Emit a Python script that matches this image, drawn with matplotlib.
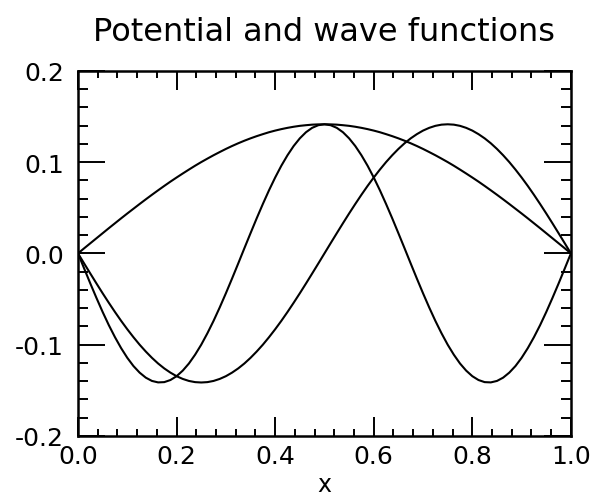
import matplotlib
matplotlib.use("Agg")
import matplotlib.pyplot as plt
from matplotlib.ticker import MultipleLocator

# sampled x positions
x = [k / 80 for k in range(81)]

# ground state (one hump)
psi1 = [0.0000, 0.0056, 0.0111, 0.0166, 0.0221, 0.0276, 0.0330, 0.0384, 0.0437, 0.0489,
        0.0541, 0.0592, 0.0642, 0.0691, 0.0739, 0.0786, 0.0831, 0.0875, 0.0918, 0.0960,
        0.1000, 0.1038, 0.1075, 0.1110, 0.1144, 0.1176, 0.1206, 0.1234, 0.1260, 0.1284,
        0.1306, 0.1327, 0.1345, 0.1361, 0.1375, 0.1387, 0.1397, 0.1404, 0.1410, 0.1413,
        0.1414,
        0.1413, 0.1410, 0.1404, 0.1397, 0.1387, 0.1375, 0.1361, 0.1345, 0.1327, 0.1306,
        0.1284, 0.1260, 0.1234, 0.1206, 0.1176, 0.1144, 0.1110, 0.1075, 0.1038, 0.1000,
        0.0960, 0.0918, 0.0875, 0.0831, 0.0786, 0.0739, 0.0691, 0.0642, 0.0592, 0.0541,
        0.0489, 0.0437, 0.0384, 0.0330, 0.0276, 0.0221, 0.0166, 0.0111, 0.0056, 0.0000]

# first excited state
psi2 = [0.0000, -0.0111, -0.0221, -0.0330, -0.0437, -0.0541, -0.0642, -0.0739, -0.0831, -0.0918,
        -0.1000, -0.1075, -0.1144, -0.1206, -0.1260, -0.1306, -0.1345, -0.1375, -0.1397, -0.1410,
        -0.1414,
        -0.1410, -0.1397, -0.1375, -0.1345, -0.1306, -0.1260, -0.1206, -0.1144, -0.1075, -0.1000,
        -0.0918, -0.0831, -0.0739, -0.0642, -0.0541, -0.0437, -0.0330, -0.0221, -0.0111, 0.0000,
        0.0111, 0.0221, 0.0330, 0.0437, 0.0541, 0.0642, 0.0739, 0.0831, 0.0918, 0.1000,
        0.1075, 0.1144, 0.1206, 0.1260, 0.1306, 0.1345, 0.1375, 0.1397, 0.1410, 0.1414,
        0.1410, 0.1397, 0.1375, 0.1345, 0.1306, 0.1260, 0.1206, 0.1144, 0.1075, 0.1000,
        0.0918, 0.0831, 0.0739, 0.0642, 0.0541, 0.0437, 0.0330, 0.0221, 0.0111, 0.0000]

# second excited state
psi3 = [0.0000, -0.0166, -0.0330, -0.0489, -0.0642, -0.0786, -0.0918, -0.1038, -0.1144, -0.1234,
        -0.1306, -0.1361, -0.1397, -0.1413, -0.1410, -0.1387, -0.1345, -0.1284, -0.1206, -0.1110,
        -0.1000, -0.0875, -0.0739, -0.0592, -0.0437, -0.0276, -0.0111, 0.0056, 0.0221, 0.0384,
        0.0541, 0.0691, 0.0831, 0.0960, 0.1075, 0.1176, 0.1260, 0.1327, 0.1375, 0.1404,
        0.1414,
        0.1404, 0.1375, 0.1327, 0.1260, 0.1176, 0.1075, 0.0960, 0.0831, 0.0691, 0.0541,
        0.0384, 0.0221, 0.0056, -0.0111, -0.0276, -0.0437, -0.0592, -0.0739, -0.0875, -0.1000,
        -0.1110, -0.1206, -0.1284, -0.1345, -0.1387, -0.1410, -0.1413, -0.1397, -0.1361, -0.1306,
        -0.1234, -0.1144, -0.1038, -0.0918, -0.0786, -0.0642, -0.0489, -0.0330, -0.0166, 0.0000]

x_ticks = [0.0, 0.2, 0.4, 0.6, 0.8, 1.0]
x_labels = ["0.0", "0.2", "0.4", "0.6", "0.8", "1.0"]
y_ticks = [-0.2, -0.1, 0.0, 0.1, 0.2]
y_labels = ["-0.2", "-0.1", "0.0", "0.1", "0.2"]

fig = plt.figure(figsize=(5.91, 5.02), dpi=100)
ax = fig.add_axes([0.132, 0.1295, 0.834, 0.7275])

for y in (psi1, psi2, psi3):
    ax.plot(x, y, color="black", lw=1.5)

ax.set_xlim(0, 1)
ax.set_ylim(-0.2, 0.2)
ax.set_xticks(x_ticks)
ax.set_xticklabels(x_labels)
ax.set_yticks(y_ticks)
ax.set_yticklabels(y_labels)
ax.xaxis.set_minor_locator(MultipleLocator(0.04))
ax.yaxis.set_minor_locator(MultipleLocator(0.02))

ax.tick_params(axis="both", which="both", direction="in", top=True, right=True,
               color="black", width=1.4, labelsize=18)
ax.tick_params(axis="x", which="major", length=13.7, pad=6)
ax.tick_params(axis="x", which="minor", length=5)
ax.tick_params(axis="y", which="major", length=19.5, pad=10)
ax.tick_params(axis="y", which="minor", length=7)
for s in ax.spines.values():
    s.set_linewidth(1.8)

ax.set_xlabel("x", fontsize=17, labelpad=3)
ax.set_title("Potential and wave functions", fontsize=23, pad=22)

fig.savefig("out.png", dpi=100)
